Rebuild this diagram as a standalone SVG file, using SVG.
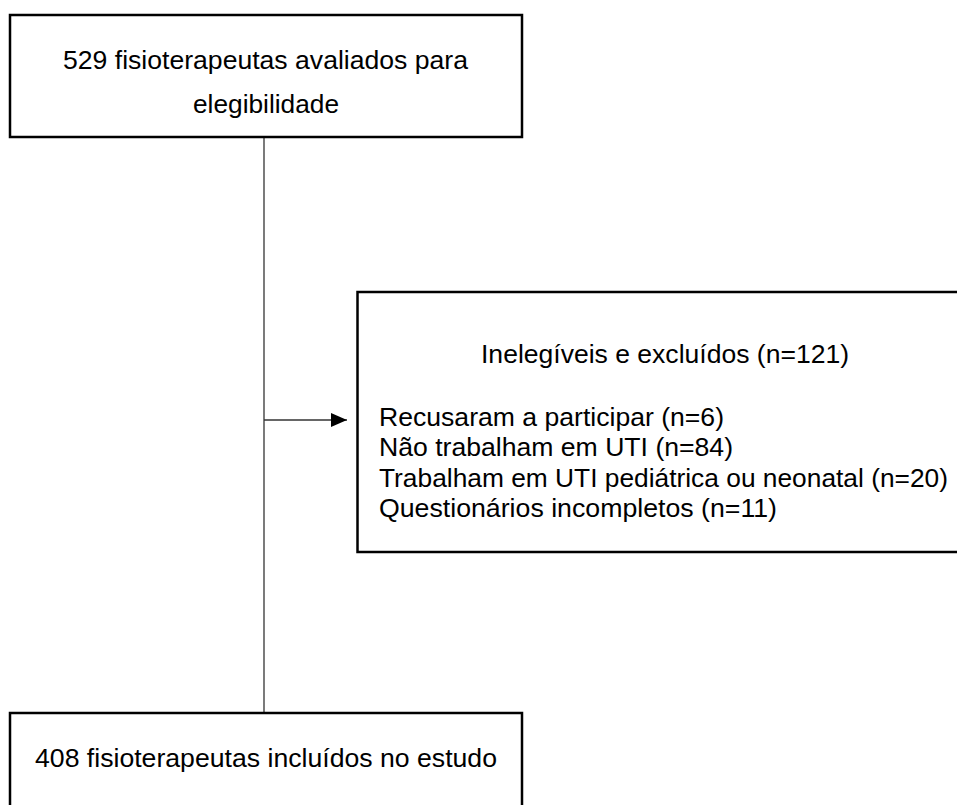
<svg xmlns="http://www.w3.org/2000/svg" width="957" height="805" viewBox="0 0 957 805">
<style>
.box{fill:#fff;stroke:#000;stroke-width:2.5}
.t{font-family:"Liberation Sans",Arial,sans-serif;font-size:26.5px;fill:#000}
.c{stroke:#333;stroke-width:1.3;fill:none}
</style>
<defs>
<marker id="ah" markerWidth="16" markerHeight="14" refX="16" refY="7" orient="auto" markerUnits="userSpaceOnUse">
<path d="M0,0 L16,7 L0,14 Z" fill="#000"/>
</marker>
</defs>
<rect width="957" height="805" fill="#fff"/>
<g id="connectors">
<line class="c" x1="264" y1="137" x2="264" y2="713"/>
<line class="c" x1="264" y1="420" x2="347" y2="420" marker-end="url(#ah)"/>
</g>
<g id="node-eligibility">
<rect class="box" x="10" y="15" width="512" height="122"/>
<text class="t" x="63" y="69" textLength="405" lengthAdjust="spacingAndGlyphs">529 fisioterapeutas avaliados para</text>
<text class="t" x="193" y="113" textLength="146" lengthAdjust="spacingAndGlyphs">elegibilidade</text>
</g>
<g id="node-excluded">
<rect class="box" x="357.5" y="292" width="620" height="260"/>
<text class="t" x="481" y="363" textLength="368" lengthAdjust="spacingAndGlyphs">Inelegíveis e excluídos (n=121)</text>
<text class="t" x="379" y="426" textLength="345" lengthAdjust="spacingAndGlyphs">Recusaram a participar (n=6)</text>
<text class="t" x="379" y="456" textLength="354" lengthAdjust="spacingAndGlyphs">Não trabalham em UTI (n=84)</text>
<text class="t" x="379" y="487" textLength="569" lengthAdjust="spacingAndGlyphs">Trabalham em UTI pediátrica ou neonatal (n=20)</text>
<text class="t" x="379" y="517" textLength="398" lengthAdjust="spacingAndGlyphs">Questionários incompletos (n=11)</text>
</g>
<g id="node-included">
<rect class="box" x="10" y="713" width="512" height="110"/>
<text class="t" x="35" y="767" textLength="462" lengthAdjust="spacingAndGlyphs">408 fisioterapeutas incluídos no estudo</text>
</g>
</svg>
